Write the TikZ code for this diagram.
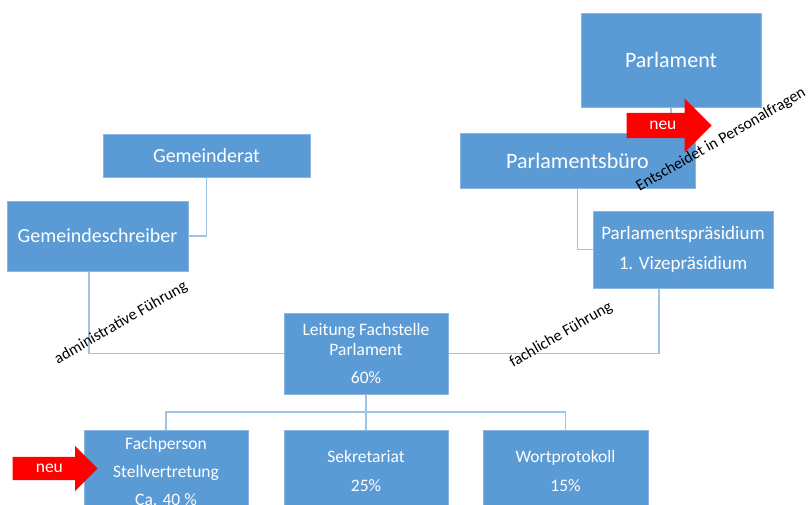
\documentclass[tikz,border=0pt]{standalone}
\usepackage{fontspec}
\setmainfont{Carlito}
\usetikzlibrary{shapes.arrows}
\definecolor{boxblue}{HTML}{5B9BD5}
\definecolor{boxline}{HTML}{8DB5E2}
\definecolor{linkblue}{HTML}{9DC3E6}
\begin{document}
\begin{tikzpicture}[x=1pt,y=-1pt,
		box/.style={fill=boxblue,draw=boxline,line width=1pt,text=white,align=center,inner sep=0pt},
		link/.style={draw=linkblue,line width=1.3pt},
		neu/.style={single arrow,fill=red,text=white,font=\fontsize{17.5}{17.5}\selectfont,single arrow head indent=0pt,inner xsep=4pt,text height=10pt,text depth=3pt},
		note/.style={rotate=30,font=\fontsize{16}{17}\selectfont}]
	\clip (0,0) rectangle (808,504);

	\node [box,minimum width=180pt,minimum height=94pt,font=\fontsize{22}{24}\selectfont] (parl) at (671,60) {Parlament};
	\node [box,minimum width=235pt,minimum height=55pt,font=\fontsize{22}{24}\selectfont] (buero) at (577.5,160.5) {Parlamentsbüro};
	\node [box,minimum width=207pt,minimum height=43pt,font=\fontsize{20}{22}\selectfont] (rat) at (206.5,155.5) {Gemeinderat};
	\node [box,minimum width=181pt,minimum height=70pt,font=\fontsize{20}{22}\selectfont] (schreiber) at (97.5,236) {Gemeindeschreiber};
	\node [box,minimum width=180pt,minimum height=77pt,font=\fontsize{19}{21}\selectfont] (praes) at (683,249.5) {Parlamentspräsidium\\[9pt]1. Vizepräsidium};
	\node [box,minimum width=164pt,minimum height=81pt,font=\fontsize{17.5}{20}\selectfont] (leitung) at (366,353.5) {Leitung Fachstelle\\Parlament\\[8pt]60\%};

	\node [box,minimum width=164pt,minimum height=82pt,font=\fontsize{17.5}{20}\selectfont] (fach) at (166,471) {Fachperson\\[8pt]Stellvertretung\\[8pt]Ca. 40 \%};
	\node [box,minimum width=164pt,minimum height=82pt,font=\fontsize{17.5}{20}\selectfont] (sekr) at (366,471) {Sekretariat\\[9pt]25\%};
	\node [box,minimum width=165pt,minimum height=82pt,font=\fontsize{17.5}{20}\selectfont] (wort) at (565.5,471) {Wortprotokoll\\[9pt]15\%};

	\coordinate (bus) at (366,412);

	\draw [link] (parl.south) -- (parl.south |- buero.north);
	\draw [link] (rat.south) |- (schreiber.east);
	\draw [link] ([xshift=-8.5pt]schreiber.south) |- (leitung.west);
	\draw [link] (buero.south) |- (praes.west);
	\draw [link] ([xshift=-24pt]praes.south) |- (leitung.east);
	\draw [link] (leitung.south) -- (sekr.north);
	\draw [link] (fach.north) |- (bus) -| (wort.north);

	\node [neu,inner ysep=6pt,single arrow head extend=14.5pt,minimum height=85pt,anchor=tip] (neuoben) at (712,125.5) {neu};
	\node [neu,inner ysep=5pt,single arrow head extend=11pt,minimum height=85pt,anchor=tip] (neuunten) at (98,468.5) {neu};

	\node [note] (entscheid) at (721,140) {Entscheidet in Personalfragen};
	\node [note] (admin) at (121,323) {administrative Führung};
	\node [note] (fachlich) at (561,335) {fachliche Führung};
\end{tikzpicture}
\end{document}
